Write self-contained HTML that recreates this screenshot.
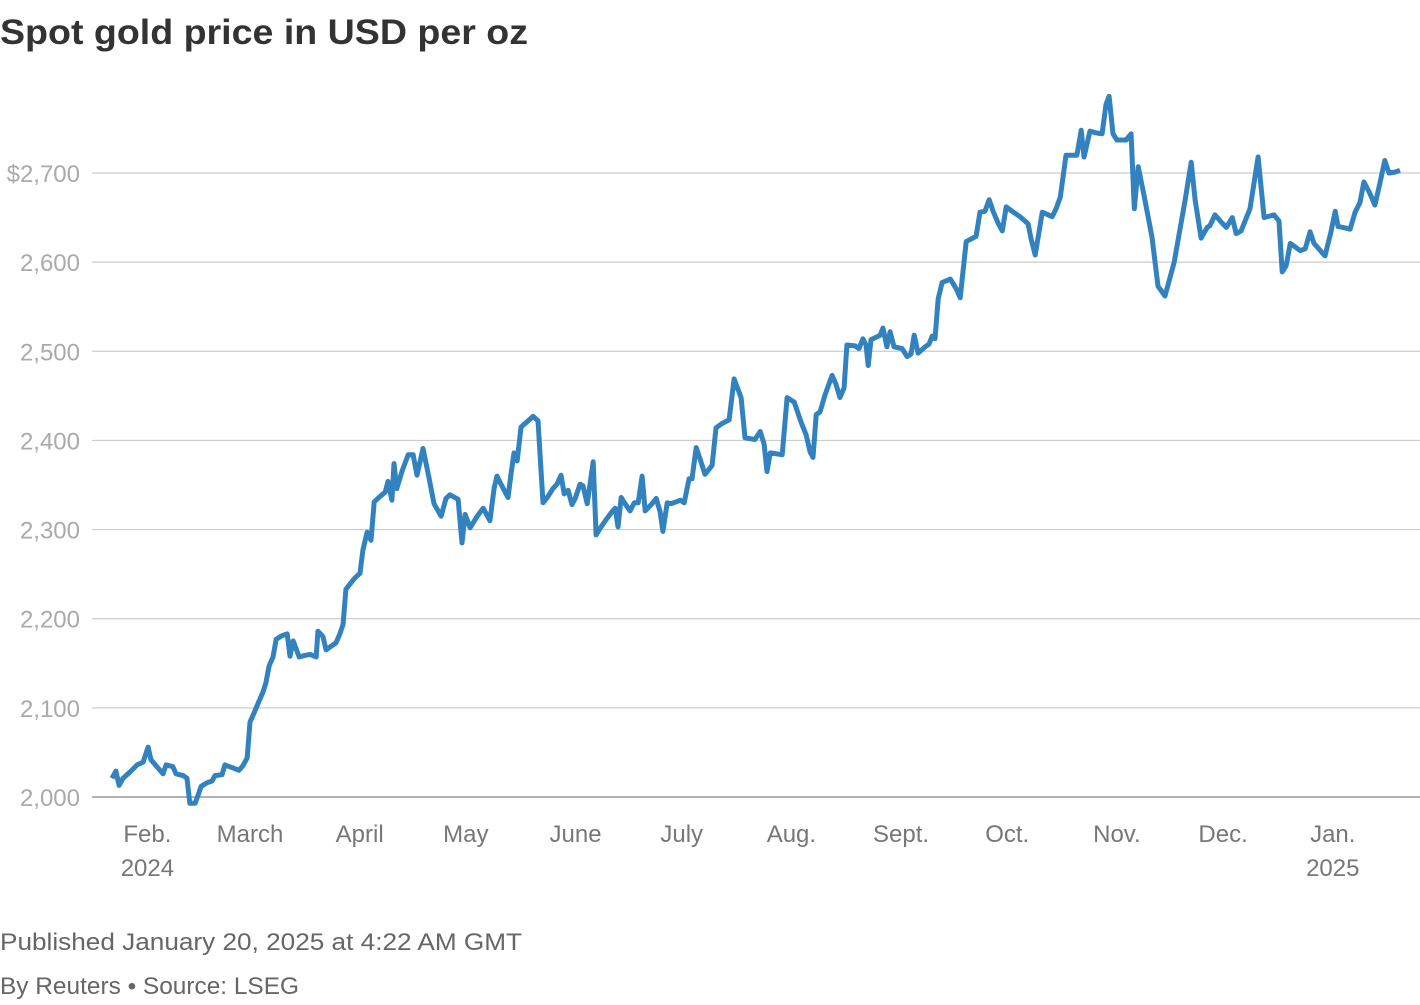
<!DOCTYPE html>
<html><head><meta charset="utf-8"><style>
body{margin:0;background:#fff;font-family:"Liberation Sans",sans-serif;}
svg text{font-family:"Liberation Sans",sans-serif;}
</style></head><body>
<svg id="chart" width="1420" height="1000" xmlns="http://www.w3.org/2000/svg">
<text x="0" y="44" font-size="35" font-weight="bold" fill="#333" textLength="528" lengthAdjust="spacingAndGlyphs">Spot gold price in USD per oz</text>
<g id="grid"></g><g id="xlabels"></g><g id="line"></g>
<text x="0" y="950" font-size="24" fill="#666" textLength="522" lengthAdjust="spacingAndGlyphs">Published January 20, 2025 at 4:22 AM GMT</text>
<text x="0" y="994" font-size="24" fill="#666" textLength="299" lengthAdjust="spacingAndGlyphs">By Reuters • Source: LSEG</text>
</svg>
<script>
const days=[0,1.1,2,3.1,5.1,7.1,8.8,10.2,11,12.7,14.4,15.3,17.2,18.1,20.1,21.2,22,23.5,25.2,26.9,28.3,29.1,31.1,31.9,33.9,35.9,37,38.2,39,40.1,41.3,42.7,43.5,44.4,45.5,46.4,48,49.5,50.3,51.2,52.9,54.6,56,57.7,58.2,59.6,60.5,61.9,63.3,64.4,65.3,66.1,67.3,68.7,70.1,70.9,72.1,73.2,74.1,75.7,77.2,78,79.1,79.7,80.5,82,83.7,85.1,86.2,87.9,89.6,91,93,94.4,95.5,97.8,98.9,99.8,101.2,103.2,104.9,106.8,108,108.8,109.9,111.9,112.8,113.6,114.5,115.6,117.3,119,120.4,121.8,123.2,124.6,125.8,126.9,127.8,128.9,130,130.9,132.3,133.1,134.3,136,136.8,138.2,139.6,141.3,142.2,143,143.9,145,146.4,147.6,148.7,149.8,150.7,152.6,153.8,154.9,155.7,156.9,158,159.4,160.6,161.7,163.1,163.9,165.1,166.2,167.6,169.6,170.7,172.4,174.4,175.8,177.8,178.9,181.7,183.2,184.3,185.1,186,189.4,190.8,192.8,194.7,196.2,197.3,198.1,199,200.1,201.5,203.5,204.6,205.7,206.9,207.7,210,211.1,212.2,213.1,213.7,214.5,217.1,217.9,219,219.9,221,223.3,224.7,225.8,226.7,227.8,229.8,230.9,231.8,232.6,233.5,234.6,236.9,238.6,239.7,240.2,241.4,244.2,245.3,246.7,247.9,249,250.4,251.6,252.7,254.4,256.6,258.9,259.7,260.9,262.9,265.7,266.8,268,269.6,272.7,273.9,274.7,276.4,278.1,279.8,280.9,281.8,282.9,284,286.6,288,288.9,290,291.7,293.9,295.6,297.6,300.2,303.3,305,306.1,307.8,309.5,310.3,311.7,313.7,314.9,316.6,317.7,319.1,321.6,323.9,325.6,328.4,329.8,330.7,331.8,333,335.8,337.2,338.6,339.7,342.8,344.5,345.7,346.5,347.9,349.9,351.3,352.7,353.8,355.5,356.9,358.3,359.7,360.9,362.6,364];
const values=[2021,2029,2013,2021,2028,2036,2039,2056,2042,2034,2026,2036,2034,2026,2024,2021,1993,1993,2012,2016,2018,2024,2025,2036,2033,2030,2035,2044,2084,2094,2105,2118,2128,2147,2157,2177,2181,2183,2158,2175,2157,2159,2160,2157,2186,2180,2165,2169,2173,2183,2194,2233,2239,2246,2251,2277,2297,2288,2331,2337,2342,2354,2333,2374,2346,2366,2384,2384,2361,2391,2358,2329,2315,2335,2339,2334,2285,2317,2302,2315,2324,2310,2347,2360,2351,2336,2363,2386,2377,2415,2421,2427,2422,2330,2337,2346,2351,2361,2340,2344,2328,2335,2351,2349,2329,2376,2294,2303,2311,2320,2324,2303,2336,2329,2321,2330,2330,2360,2321,2329,2335,2320,2298,2330,2329,2331,2333,2330,2357,2357,2392,2379,2362,2372,2414,2419,2423,2469,2448,2403,2401,2410,2396,2365,2386,2384,2448,2443,2421,2406,2387,2381,2429,2432,2451,2473,2463,2448,2459,2507,2506,2503,2514,2507,2484,2513,2518,2526,2505,2522,2505,2503,2494,2497,2518,2498,2505,2508,2517,2514,2559,2577,2581,2570,2560,2578,2623,2629,2656,2657,2670,2657,2644,2635,2662,2657,2651,2643,2627,2608,2656,2651,2660,2673,2720,2720,2748,2718,2747,2745,2744,2777,2786,2744,2737,2737,2744,2660,2707,2674,2628,2573,2562,2600,2670,2712,2670,2627,2639,2641,2653,2644,2639,2650,2632,2635,2660,2718,2650,2653,2646,2589,2596,2621,2613,2615,2634,2621,2607,2634,2657,2640,2639,2637,2656,2667,2690,2677,2664,2688,2714,2700,2701,2703];
const yTicks=[2000,2100,2200,2300,2400,2500,2600,2700];
const yTickLabels=["2,000","2,100","2,200","2,300","2,400","2,500","2,600","$2,700"];
const monthDays=[10,39,70,100,131,161,192,223,253,284,314,345];
const monthLabels=["Feb.","March","April","May","June","July","Aug.","Sept.","Oct.","Nov.","Dec.","Jan."];
const yearLabels=["2024","","","","","","","","","","","2025"];

const NS="http://www.w3.org/2000/svg";
const x=d=>112+d*(1400-112)/364;
const y=v=>797-(v-2000)*(797-173)/700;
const grid=document.getElementById('grid');
yTicks.forEach((t,i)=>{
  const l=document.createElementNS(NS,'line');
  
  
  l.setAttribute('x1',92);l.setAttribute('x2',1420);
  l.setAttribute('y1',y(t));l.setAttribute('y2',y(t));
  l.setAttribute('stroke',i===0?'#999':'#ccc');l.setAttribute('stroke-width',i===0?1.5:1.2);
  grid.appendChild(l);
  const tx=document.createElementNS(NS,'text');
  
  
  tx.setAttribute('x',80);tx.setAttribute('y',y(t)+9);
  tx.setAttribute('text-anchor','end');tx.setAttribute('font-size','24');tx.setAttribute('fill','#aaa');
  tx.textContent=yTickLabels[i];grid.appendChild(tx);
});
const xl=document.getElementById('xlabels');
monthDays.forEach((d,i)=>{
  const t=document.createElementNS(NS,'text');
  
  
  t.setAttribute('x',x(d));t.setAttribute('y',842);t.setAttribute('text-anchor','middle');
  t.setAttribute('font-size','24');t.setAttribute('fill','#777');
  t.textContent=monthLabels[i];xl.appendChild(t);
  if(yearLabels[i]){
    const t2=document.createElementNS(NS,'text');
    
    
    t2.setAttribute('x',x(d));t2.setAttribute('y',876);t2.setAttribute('text-anchor','middle');
    t2.setAttribute('font-size','24');t2.setAttribute('fill','#777');
    t2.textContent=yearLabels[i];xl.appendChild(t2);
  }
});
const p=document.createElementNS(NS,'path');


p.setAttribute('d',days.map((d,i)=>(i?'L':'M')+x(d).toFixed(1)+','+y(values[i]).toFixed(1)).join(''));
p.setAttribute('fill','none');p.setAttribute('stroke','#3282c0');p.setAttribute('stroke-width','5');
p.setAttribute('stroke-linejoin','round');
document.getElementById('line').appendChild(p);
</script>
</body></html>
